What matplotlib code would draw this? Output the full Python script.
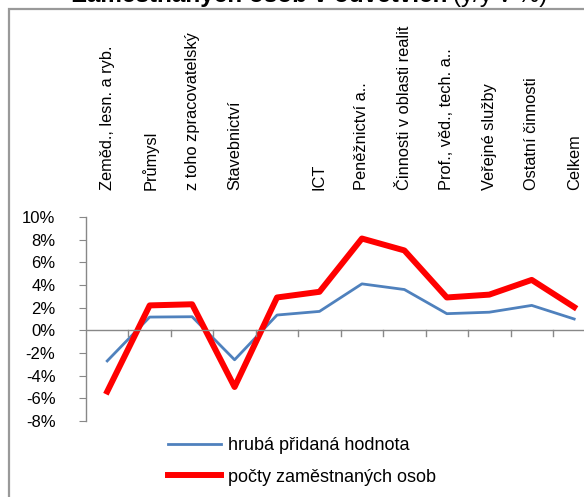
import matplotlib
matplotlib.use("Agg")
import matplotlib.pyplot as plt
from matplotlib.patches import Rectangle
from matplotlib.ticker import FuncFormatter
import matplotlib.transforms as mtrans

plt.rcParams['font.family'] = ['Liberation Sans', 'DejaVu Sans']

categories = ["Zeměd., lesn. a ryb.", "Průmysl", "z toho zpracovatelský", "Stavebnictví", "",
              "ICT", "Peněžnictví a..", "Činnosti v oblasti realit", "Prof., věd., tech. a..",
              "Veřejné služby", "Ostatní činnosti", "Celkem"]
hph = [-2.7, 1.17, 1.2, -2.6, 1.35, 1.67, 4.1, 3.6, 1.47, 1.6, 2.2, 1.0]
zam = [-5.4, 2.2, 2.3, -5.0, 2.9, 3.4, 8.1, 7.05, 2.9, 3.15, 4.45, 2.05]
series_names = ["hrubá přidaná hodnota", "počty zaměstnaných osob"]
yticks = [-8, -6, -4, -2, 0, 2, 4, 6, 8, 10]

W, H = 584, 497
fig = plt.figure(figsize=(W/100, H/100), dpi=100)

def fx(px): return px / W
def fy(py): return 1 - py / H

ax_left, ax_right = 86, 86 + 12 * 42.45
ax_top, ax_bot = 217, 421
ax = fig.add_axes([fx(ax_left), fy(ax_bot), (ax_right - ax_left)/W, (ax_bot - ax_top)/H])
ax.set_facecolor('none')

x = list(range(len(categories)))
ax.plot(x, hph, color='#4F81BD', lw=2.0, solid_joinstyle='round', label=series_names[0])
ax.plot(x, zam, color='#FF0000', lw=4.3, solid_joinstyle='round', label=series_names[1])

ax.set_xlim(-0.5, len(categories) - 0.5)
ax.set_ylim(-8, 10)
ax.set_yticks(yticks)
ax.yaxis.set_major_formatter(FuncFormatter(lambda v, p: f"{int(v)}%"))
ax.tick_params(axis='y', direction='out', length=5, color='#888888', labelsize=12, pad=17,
               labelcolor='black')

for s in ['top', 'right', 'bottom']:
    ax.spines[s].set_visible(False)
ax.spines['left'].set_color('#888888')
ax.spines['left'].set_linewidth(1.0)
ax.set_xticks([])
ax.axhline(0, color='#888888', lw=1.0)
for b in range(1, len(categories)):
    ax.plot([b - 0.5, b - 0.5], [0, -0.5], color='#888888', lw=1.0, clip_on=False)

trans = mtrans.blended_transform_factory(ax.transData, fig.transFigure)
for i, c in enumerate(categories):
    ax.text(i, fy(190), c, transform=trans, rotation=90, ha='center', va='bottom',
            fontsize=11.8, color='black')

fig.legend(loc='upper left', bbox_to_anchor=(fx(152), fy(421)), frameon=False,
           fontsize=13, handlelength=2.9, handletextpad=0.4, labelspacing=0.8)

fig.patches.append(Rectangle((fx(9), -0.1), 1.2, fy(9) + 0.1, transform=fig.transFigure,
                             fill=False, edgecolor='#999999', lw=1.6))

t1 = fig.text(fx(72), fy(2), "Zaměstnaných osob v odvětvích", fontsize=17.5, fontweight='bold',
              ha='left', va='baseline')
fig.canvas.draw()
bb = t1.get_window_extent()
fig.text(bb.x1 / W + fx(6), fy(2), "(y/y v %)", fontsize=17.5, ha='left', va='baseline')

fig.savefig("out.png", dpi=100)
